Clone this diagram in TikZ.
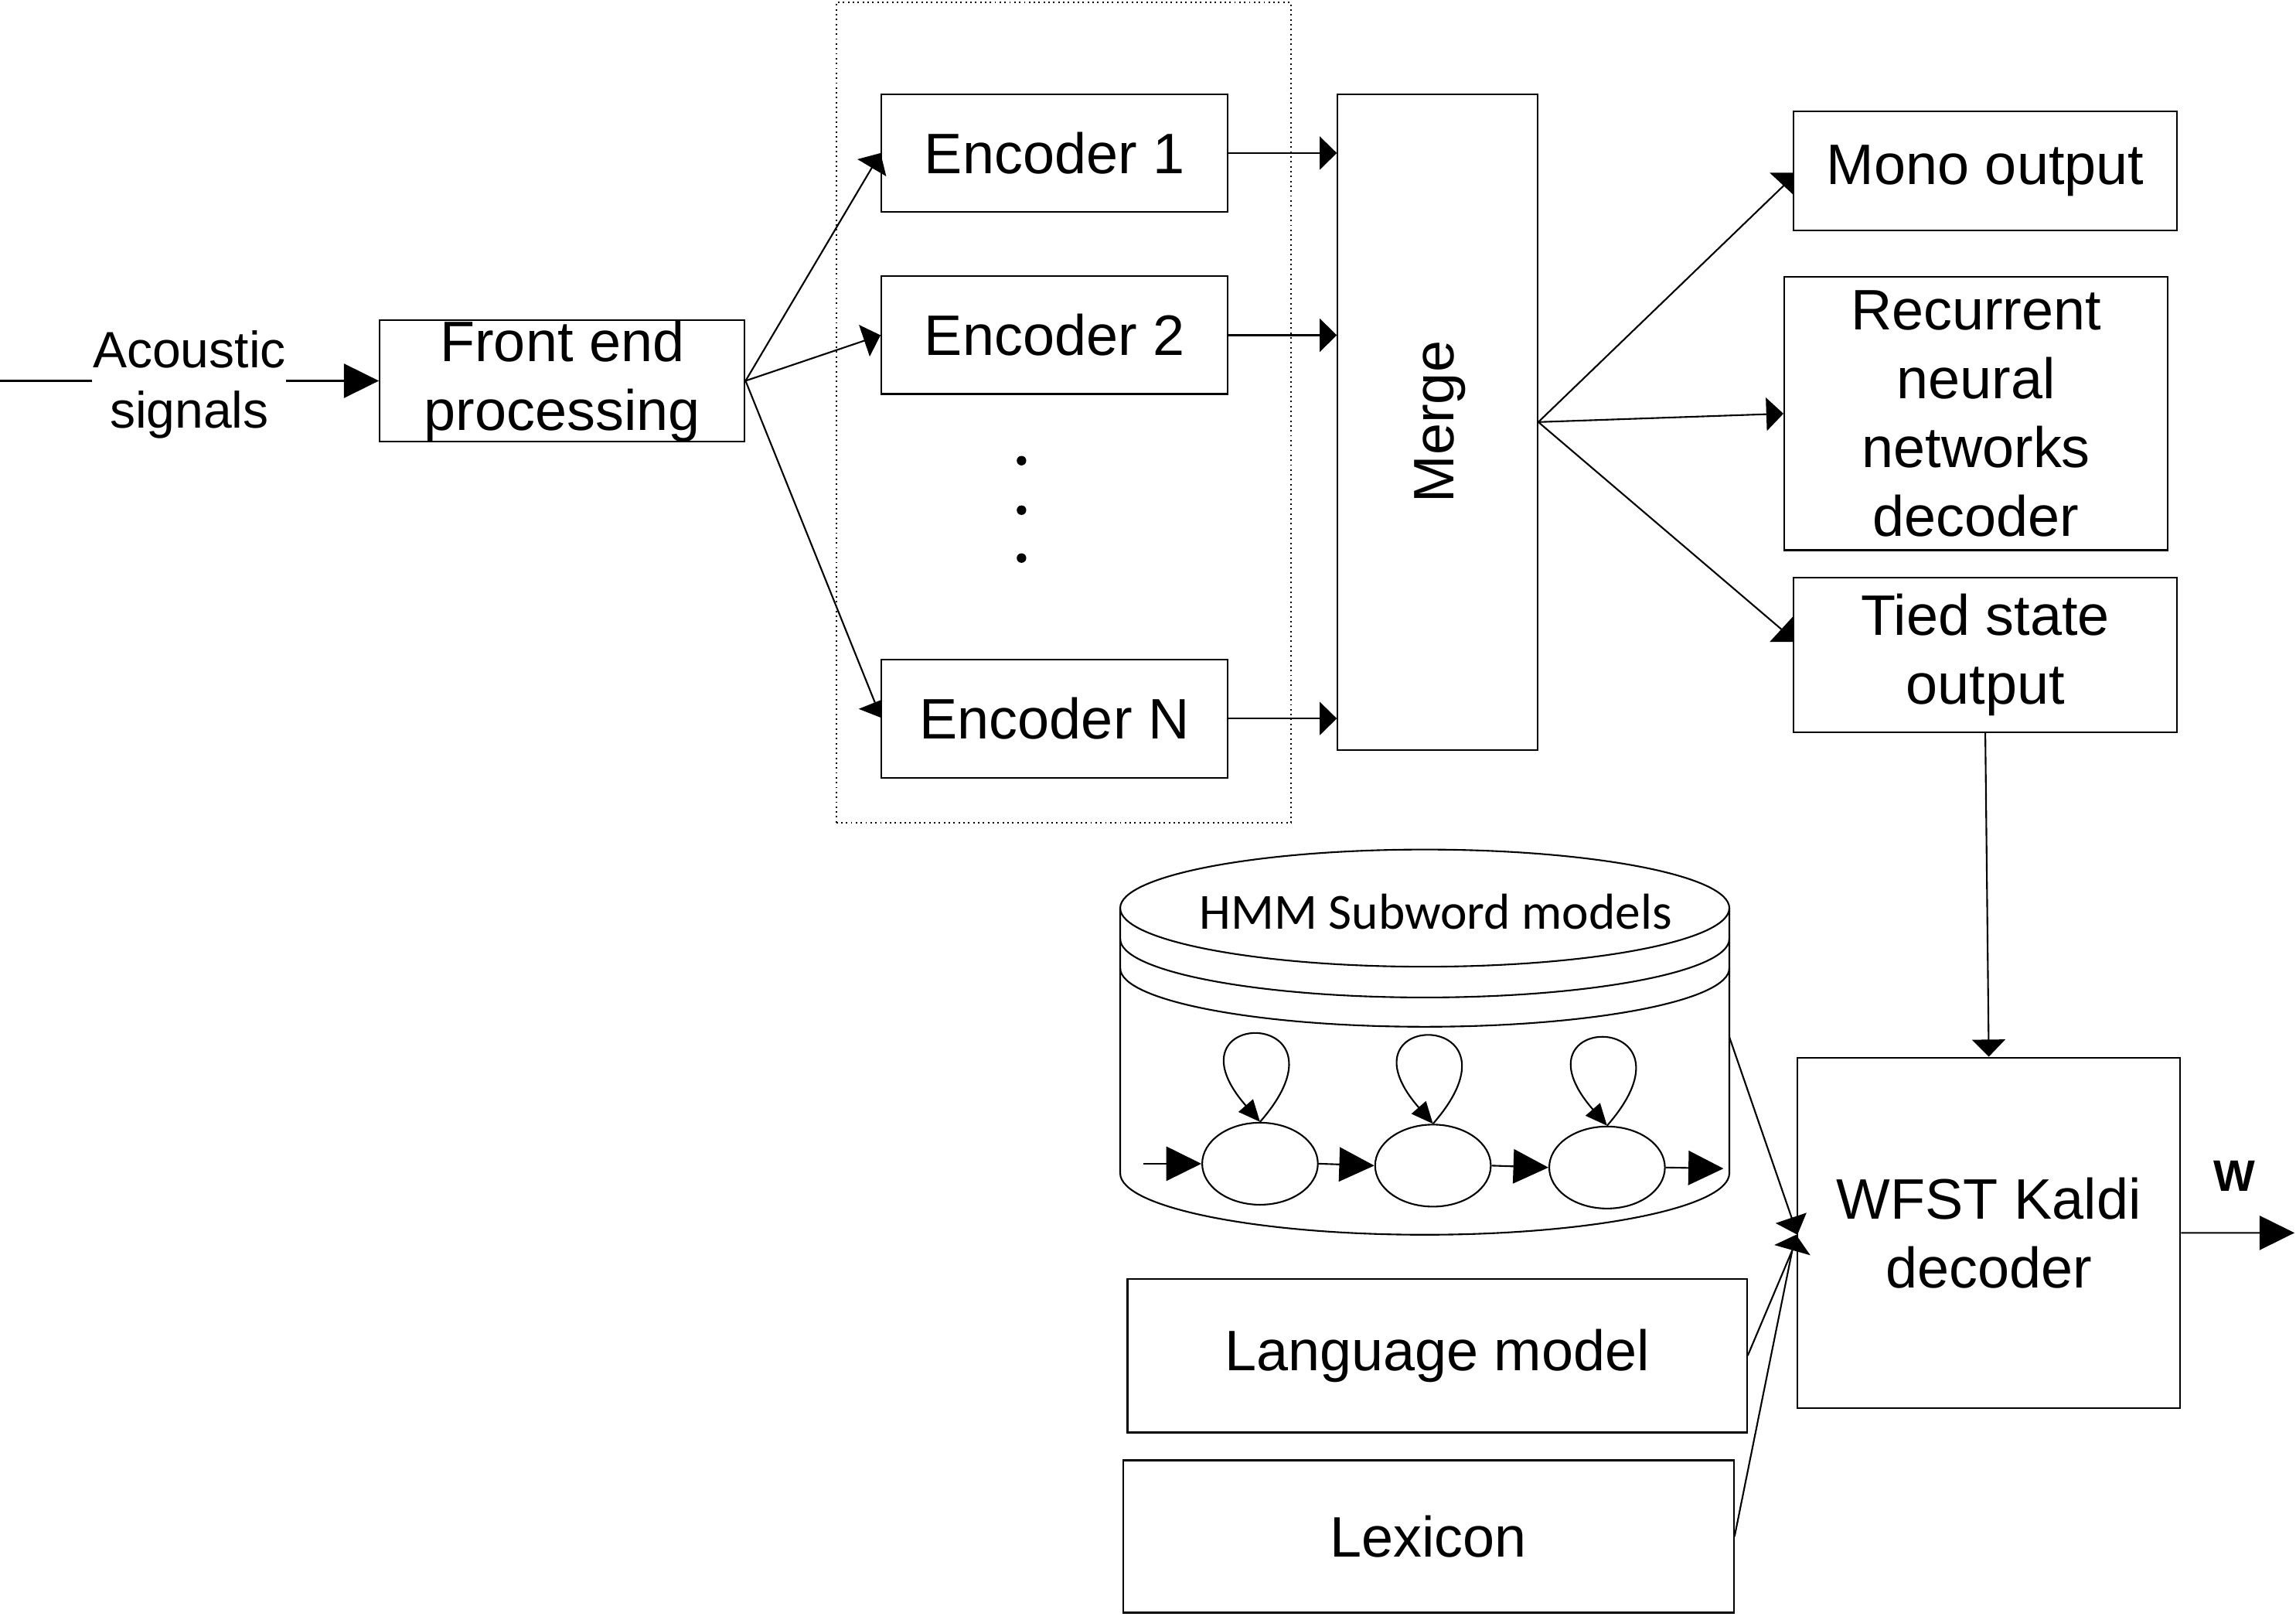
\documentclass[tikz,border=0pt]{standalone}
\usepackage{fontspec}
\setmainfont{Liberation Sans}
\newfontfamily\calibrifont{Carlito}
\usetikzlibrary{arrows.meta,shapes.geometric,calc}
\def\pxu{0.18941mm}
\begin{document}
\begin{tikzpicture}[x=0.18941mm,y=-0.18941mm,
  ln/.style={line width=0.6pt},
  box/.style={draw,line width=0.6pt,inner sep=0pt,align=center,font=\fontsize{21}{25.3}\selectfont},
  sz/.style 2 args={minimum width=#1*\pxu,minimum height=#2*\pxu},
  state/.style={ellipse,draw,line width=0.6pt,inner sep=0pt,minimum width=79*\pxu,minimum height=56*\pxu},
  dotnode/.style={circle,fill,inner sep=0pt,minimum size=6.5*\pxu},
  bigtip/.style={-{Triangle[length=12.9pt,width=12.6pt]}},
  widetip/.style={-{Triangle[length=6.3pt,width=12.2pt]}},
  looptip/.style={-{Triangle[length=8pt,width=7pt]}},
]
\useasboundingbox (0,0) rectangle (1568,1106);

% ---- left part
\coordinate (src) at (0,260);
\node[inner sep=0pt,align=center,font=\fontsize{18.8}{22.2}\selectfont] (ac) at (129.3,262.6) {Acoustic\\signals};
\node[box,sz={249.3}{80}] (fe) at (383.95,260) {Front end\\processing};

% ---- encoders
\node[draw,line width=0.55pt,dash pattern=on 0.55pt off 1.25pt,inner sep=0pt,sz={310.7}{560}] (grp) at (726.35,281.8) {};
\node[box,sz={236.5}{80.4}] (enc1) at (720.15,104.5) {Encoder 1};
\node[box,sz={236.5}{80.3}] (enc2) at (720.15,228.85) {Encoder 2};
\node[box,sz={236.5}{80.7}] (encN) at (720.15,490.55) {Encoder N};
\node[dotnode] (dot1) at (697.6,314.5) {};
\node[dotnode] (dot2) at (697.6,348.3) {};
\node[dotnode] (dot3) at (697.6,381) {};

% ---- merge
\node[box,sz={136.5}{447.7}] (merge) at (981.75,288.15) {};
\node[rotate=90,inner sep=0pt,font=\fontsize{21}{25}\selectfont] (mergelabel) at (983.5,288) {Merge};

% ---- outputs
\node[box,sz={262}{81.2}] (mono) at (1355.8,116.7) {Mono output};
\node[box,sz={262}{186.4}] (rnn) at (1349.5,282.4) {Recurrent\\neural\\networks\\decoder};
\node[box,sz={262}{105.4}] (tied) at (1355.8,447.1) {Tied state\\output};
\node[box,sz={261.4}{239.5}] (wfst) at (1358.2,841.75) {WFST Kaldi\\decoder};
\node[box,sz={423}{105}] (lm) at (981.5,925.5) {Language model};
\node[box,sz={417}{104}] (lex) at (975.5,1049) {Lexicon};

% ---- HMM cylinder
\draw[ln] (973,620) ellipse[x radius=208*\pxu,y radius=40*\pxu];
\draw[ln] (765,641) arc[start angle=180,end angle=360,x radius=208*\pxu,y radius=40*\pxu];
\draw[ln] (765,661) arc[start angle=180,end angle=360,x radius=208*\pxu,y radius=40*\pxu];
\draw[ln] (765,620) -- (765,801) arc[start angle=180,end angle=360,x radius=208*\pxu,y radius=42*\pxu] -- (1181,620);
\node[font=\calibrifont\fontsize{18.6}{22}\selectfont,anchor=base,inner sep=0pt] (hmmtitle) at (980.5,634.4) {HMM Subword models};
\coordinate (hmmR) at (1181,708);

\node[state] (s1) at (860.5,794.5) {};
\node[state] (s2) at (978.6,795.8) {};
\node[state] (s3) at (1097.5,797.1) {};
\coordinate (hin) at (781,794.5);
\coordinate (hout) at (1177,797.8);
\draw[ln,bigtip] (hin) -- (s1.west);
\draw[ln,bigtip] (s1.east) -- (s2.west);
\draw[ln,bigtip] (s2.east) -- (s3.west);
\draw[ln,bigtip] (s3.east) -- (hout);
\foreach \nm in {s1,s2,s3}
  \draw[ln,looptip] (\nm.north) .. controls ($(\nm.north)+(69,-79)$) and ($(\nm.north)+(-69,-79)$) .. (\nm.north);

% ---- connectors
\draw[ln] (src) -- (src -| ac.west);
\draw[ln,bigtip] (ac.east |- fe.west) -- (fe.west);
\draw[ln,widetip] (fe.east) -- (enc1.west);
\draw[ln,widetip] (fe.east) -- (enc2.west);
\coordinate (encNin) at (597.5,479.6);
\draw[ln] (fe.east) -- (encNin);
\fill (586.4,484) -- (601.9,477.8) -- (601.9,490.1) -- cycle;
\foreach \nm in {enc1,enc2,encN}
  \draw[ln,widetip] (\nm.east) -- (\nm.east -| merge.west);

\coordinate (monoin) at (1219.4,125.5);
\draw[ln] (merge.east) -- (monoin);
\fill (1208.5,117.9) -- (1224.8,117.9) -- (1224.8,133.1) -- cycle;
\draw[ln,widetip] (merge.east) -- (rnn.west);
\coordinate (tiedin) at (1217,430);
\draw[ln] (merge.east) -- (tiedin);
\fill (1208.5,438.3) -- (1224.3,421.1) -- (1224.8,438.3) -- cycle;

\draw[ln,widetip] (tied.south) -- (wfst.north);
\coordinate (wout) at (1567,841.7);
\draw[ln,bigtip] (wfst.east) -- (wout);
\node[font=\bfseries\fontsize{16.2}{18}\selectfont,anchor=base,inner sep=0pt] (wlab) at (1525.8,813.1) {W};

\coordinate (wfin1) at (1226,838.5);
\coordinate (wfin2) at (1224,853.5);
\draw[ln] (hmmR) -- (wfin1);
\draw[ln] (lm.east) -- (wfin2);
\draw[ln] (lex.east) -- (wfin2);
\fill (1212.6,835.1) -- (1233.7,828) -- (1227.5,843) -- cycle;
\fill (1211.7,850) -- (1226.6,843) -- (1236.3,857) -- cycle;
\end{tikzpicture}
\end{document}
